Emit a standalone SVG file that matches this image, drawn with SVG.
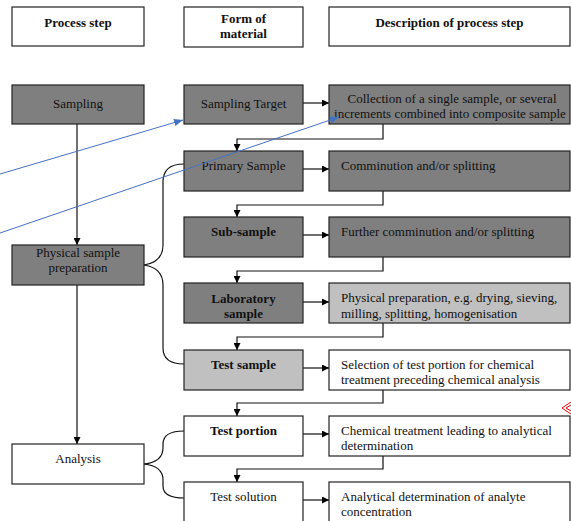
<svg xmlns="http://www.w3.org/2000/svg" width="571" height="521" viewBox="0 0 571 521">
<style>
text{font-family:"Liberation Serif","Times New Roman",serif;font-size:13px;fill:#111}
.b{font-weight:bold}
.c{text-anchor:middle}
.box{stroke:#222;stroke-width:1.2}
.w{fill:#fff}.d{fill:#7f7f7f}.l{fill:#c0c0c0}
.ln{fill:none;stroke:#111;stroke-width:1.2}
.bl{fill:none;stroke:#4472c4;stroke-width:1}
</style>
<defs>
<marker id="ah" viewBox="0 0 10 10" refX="10" refY="5" markerWidth="7" markerHeight="7" markerUnits="userSpaceOnUse" orient="auto"><path d="M0,0L10,5L0,10z" fill="#000"/></marker>
<marker id="bh" viewBox="0 0 10 10" refX="10" refY="5" markerWidth="9" markerHeight="9" markerUnits="userSpaceOnUse" orient="auto"><path d="M0,1L10,5L0,9z" fill="#4472c4"/></marker>
</defs>
<g id="headers">
<g id="h1"><rect class="box w" x="12" y="7" width="132" height="39"/><text class="b c" x="78" y="27">Process step</text></g>
<g id="h2"><rect class="box w" x="184" y="7" width="119" height="40"/><text class="b c" x="243.5" y="23">Form of</text><text class="b c" x="243.5" y="38">material</text></g>
<g id="h3"><rect class="box w" x="329" y="7" width="241" height="39"/><text class="b c" x="449.5" y="27">Description of process step</text></g>
</g>
<g id="connectors">
<line class="ln" x1="77" y1="124" x2="77" y2="245" marker-end="url(#ah)"/>
<line class="ln" x1="77" y1="285" x2="77" y2="444" marker-end="url(#ah)"/>
<line class="ln" x1="303" y1="103" x2="329" y2="103" marker-end="url(#ah)"/>
<line class="ln" x1="303" y1="169" x2="329" y2="169" marker-end="url(#ah)"/>
<line class="ln" x1="303" y1="235" x2="329" y2="235" marker-end="url(#ah)"/>
<line class="ln" x1="303" y1="302" x2="329" y2="302" marker-end="url(#ah)"/>
<line class="ln" x1="303" y1="368" x2="329" y2="368" marker-end="url(#ah)"/>
<line class="ln" x1="303" y1="434" x2="329" y2="434" marker-end="url(#ah)"/>
<line class="ln" x1="303" y1="500" x2="329" y2="500" marker-end="url(#ah)"/>
<polyline class="ln" points="383,124 383,139 237,139 237,151" marker-end="url(#ah)"/>
<polyline class="ln" points="383,191 383,205 237,205 237,217" marker-end="url(#ah)"/>
<polyline class="ln" points="383,257 383,271 237,271 237,283" marker-end="url(#ah)"/>
<polyline class="ln" points="383,323 383,337 237,337 237,350" marker-end="url(#ah)"/>
<polyline class="ln" points="383,390 383,403 237,403 237,416" marker-end="url(#ah)"/>
<polyline class="ln" points="383,456 383,469 237,469 237,482" marker-end="url(#ah)"/>
<path class="ln" d="M144,265 Q163,262 163,245 L163,182 Q163,164 184,164"/>
<path class="ln" d="M144,265 Q163,268 163,285 L163,348 Q163,364 184,364"/>
<path class="ln" d="M144,464 Q163,462 163,448 L163,444 Q163,431 184,431"/>
<path class="ln" d="M144,464 Q163,466 163,480 L163,486 Q163,498 184,498"/>
</g>
<g id="sampling"><rect class="box d" x="12" y="85" width="132" height="39"/><text class="c" x="78" y="108">Sampling</text></g>
<g id="physprep"><rect class="box d" x="12" y="245" width="132" height="40"/><text class="c" x="78" y="257">Physical sample</text><text class="c" x="78" y="272">preparation</text></g>
<g id="analysis"><rect class="box w" x="12" y="444" width="132" height="40"/><text class="c" x="78" y="463">Analysis</text></g>
<g id="target"><rect class="box d" x="184" y="85" width="119" height="39"/><text class="c" x="243.5" y="108">Sampling Target</text></g>
<g id="primary"><rect class="box d" x="184" y="151" width="119" height="40"/><text class="c" x="243.5" y="170">Primary Sample</text></g>
<g id="sub"><rect class="box d" x="184" y="217" width="119" height="40"/><text class="b c" x="243.5" y="236">Sub-sample</text></g>
<g id="lab"><rect class="box d" x="184" y="283" width="119" height="40"/><text class="b c" x="243.5" y="303">Laboratory</text><text class="b c" x="243.5" y="318">sample</text></g>
<g id="testsample"><rect class="box l" x="184" y="350" width="119" height="40"/><text class="b c" x="243.5" y="369">Test sample</text></g>
<g id="testportion"><rect class="box w" x="184" y="416" width="119" height="40"/><text class="b c" x="243.5" y="435">Test portion</text></g>
<g id="testsolution"><rect class="box w" x="184" y="482" width="119" height="42"/><text class="c" x="243.5" y="501">Test solution</text></g>
<g id="d1"><rect class="box d" x="329" y="85" width="241" height="39"/><text class="c" x="452" y="103">Collection of a single sample, or several</text><text class="c" x="450" y="118">increments combined into composite sample</text></g>
<g id="d2"><rect class="box d" x="329" y="151" width="241" height="40"/><text x="341" y="170">Comminution and/or splitting</text></g>
<g id="d3"><rect class="box d" x="329" y="217" width="241" height="40"/><text x="341" y="236">Further comminution and/or splitting</text></g>
<g id="d4"><rect class="box l" x="329" y="283" width="241" height="40"/><text x="341" y="302">Physical preparation, e.g. drying, sieving,</text><text x="341" y="318">milling, splitting, homogenisation</text></g>
<g id="d5"><rect class="box w" x="329" y="350" width="241" height="40"/><text x="341" y="369">Selection of test portion for chemical</text><text x="341" y="384">treatment preceding chemical analysis</text></g>
<g id="d6"><rect class="box w" x="329" y="416" width="241" height="40"/><text x="341" y="435">Chemical treatment leading to analytical</text><text x="341" y="450">determination</text></g>
<g id="d7"><rect class="box w" x="329" y="482" width="241" height="42"/><text x="341" y="501">Analytical determination of analyte</text><text x="341" y="516">concentration</text></g>
<g id="annotations">
<line class="bl" x1="0" y1="174" x2="183" y2="120" marker-end="url(#bh)"/>
<line class="bl" x1="0" y1="233" x2="339" y2="117" marker-end="url(#bh)"/>
<polyline points="571,402 562,408 571,414" fill="none" stroke="#e00" stroke-width="1"/>
<polyline points="571,405 566,408 571,411" fill="none" stroke="#e00" stroke-width="1"/>
</g>
</svg>
